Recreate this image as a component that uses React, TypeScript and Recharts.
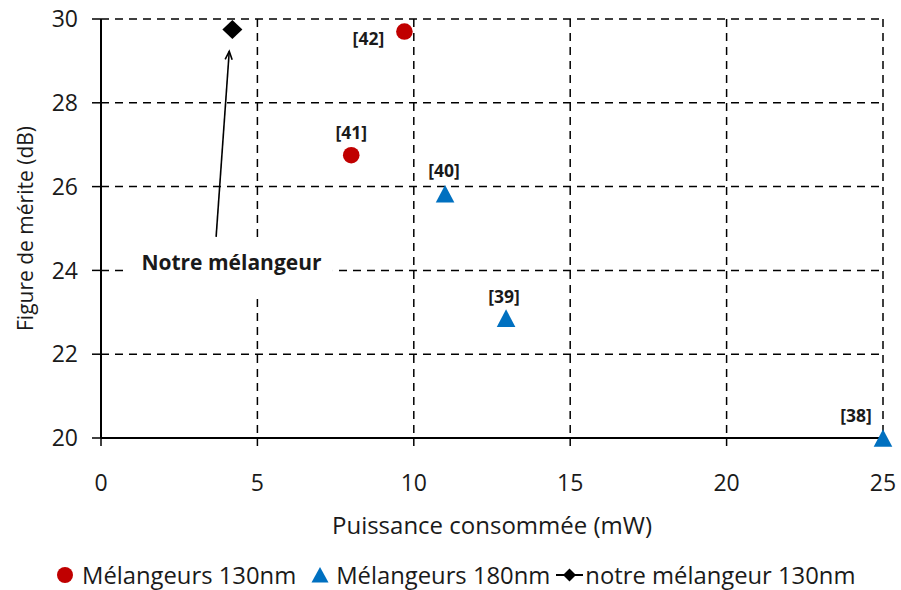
import React from 'react';
import {
  ScatterChart,
  Scatter,
  XAxis,
  YAxis,
  CartesianGrid,
  Legend,
  ReferenceLine,
  ReferenceDot,
} from 'recharts';

const FONT = '"Open Sans", Lato, sans-serif';

// ---- data ----
const xTicks = [0, 5, 10, 15, 20, 25];
const yTicks = [20, 22, 24, 26, 28, 30];

const series130Name = 'Mélangeurs 130nm';
const mixers130X = [8.0, 9.7];
const mixers130Y = [26.75, 29.7];
const mixers130Refs = ['[41]', '[42]'];

const series180Name = 'Mélangeurs 180nm';
const mixers180X = [11.0, 12.95, 25.0];
const mixers180Y = [25.83, 22.86, 20.0];
const mixers180Refs = ['[40]', '[39]', '[38]'];

const oursName = 'notre mélangeur 130nm';
const oursX = [4.2];
const oursY = [29.75];

const annotationText = 'Notre mélangeur';
const annotationAt = { x: 4.17, y: 24.2 };
const arrowFrom = { x: 3.68, y: 24.8 };
const arrowTo = { x: 4.1, y: 29.23 };

const xTitle = 'Puissance consommée (mW)';
const yTitle = 'Figure de mérite (dB)';

// ---- styling ----
const RED = '#C00000';
const BLUE = '#0070C0';
const TEXT = '#1a1a1a';
const labelOffset: Record<string, [number, number]> = {
  '[42]': [-36, 6],
  '[41]': [0, -23],
  '[40]': [-1, -24],
  '[39]': [-2, -22],
  '[38]': [-27, -23],
};

const build = (xs: number[], ys: number[], refs?: string[]) =>
  xs.map((x, i) => ({ x, y: ys[i], ref: refs ? refs[i] : '' }));

const data130 = build(mixers130X, mixers130Y, mixers130Refs);
const data180 = build(mixers180X, mixers180Y, mixers180Refs);
const dataOurs = build(oursX, oursY);

const RefLabel = ({ cx, cy, text }: { cx: number; cy: number; text: string }) => {
  if (!text) return null;
  const off = labelOffset[text] || [0, -22];
  return (
    <text
      x={cx + off[0]}
      y={cy + off[1]}
      textAnchor="middle"
      dominantBaseline="central"
      fontFamily={FONT}
      fontWeight={700}
      fontSize={17.5}
      fill={TEXT}
    >
      {text}
    </text>
  );
};

const CircleShape = (p: any) => (
  <g>
    <circle cx={p.cx} cy={p.cy} r={8.3} fill={RED} />
    <RefLabel cx={p.cx} cy={p.cy} text={p.payload?.ref} />
  </g>
);

const TriangleShape = (p: any) => (
  <g>
    <polygon
      points={`${p.cx},${p.cy - 8.8} ${p.cx + 9.3},${p.cy + 8.8} ${p.cx - 9.3},${p.cy + 8.8}`}
      fill={BLUE}
    />
    <RefLabel cx={p.cx} cy={p.cy} text={p.payload?.ref} />
  </g>
);

const DiamondShape = (p: any) => (
  <polygon
    points={`${p.cx},${p.cy - 9.5} ${p.cx + 10},${p.cy} ${p.cx},${p.cy + 9.5} ${p.cx - 10},${p.cy}`}
    fill="#000"
  />
);

const ArrowShape = (p: any) => {
  const { x1, y1, x2, y2 } = p;
  const ang = Math.atan2(y2 - y1, x2 - x1);
  const L = 9;
  const a1 = ang + Math.PI - 0.4;
  const a2 = ang + Math.PI + 0.4;
  return (
    <g>
      <line x1={x1} y1={y1} x2={x2} y2={y2} stroke="#000" strokeWidth={1.6} />
      <polyline
        points={`${x2 + L * Math.cos(a1)},${y2 + L * Math.sin(a1)} ${x2},${y2} ${x2 + L * Math.cos(a2)},${y2 + L * Math.sin(a2)}`}
        fill="none"
        stroke="#000"
        strokeWidth={1.6}
      />
    </g>
  );
};

const AnnotationShape = (p: any) => (
  <g>
    <rect x={p.cx - 104.5} y={p.cy - 22} width={206} height={56} fill="#fff" />
    <text
      x={p.cx}
      y={p.cy + 8}
      textAnchor="middle"
      fontFamily={FONT}
      fontWeight={700}
      fontSize={21}
      fill={TEXT}
    >
      {annotationText}
    </text>
  </g>
);

const LegendContent = () => (
  <div
    style={{
      display: 'flex',
      justifyContent: 'flex-start',
      alignItems: 'center',
      paddingLeft: 56,
      fontFamily: FONT,
      fontSize: 23.8,
      color: TEXT,
      whiteSpace: 'nowrap',
      lineHeight: '30px',
    }}
  >
    <svg width={18} height={30} style={{ marginRight: 8 }}>
      <circle cx={9} cy={15} r={8} fill={RED} />
    </svg>
    <span style={{ marginRight: 15 }}>{series130Name}</span>
    <svg width={18} height={30} style={{ marginRight: 7 }}>
      <polygon points="9,7 17.5,22.5 0.5,22.5" fill={BLUE} />
    </svg>
    <span style={{ marginRight: 6 }}>{series180Name}</span>
    <svg width={27} height={30} style={{ marginRight: 2 }}>
      <line x1={0} y1={15} x2={27} y2={15} stroke="#000" strokeWidth={2} />
      <polygon points="13.5,8.5 20,15 13.5,21.5 7,15" fill="#000" />
    </svg>
    <span>{oursName}</span>
  </div>
);

const tickStyle = { fontSize: 23, fill: TEXT, fontFamily: FONT };

export default function App() {
  return (
    <div style={{ position: 'absolute', left: 0, top: 0, width: 901, height: 590, background: '#fff' }}>
      <ScatterChart width={901} height={590} margin={{ top: 19, right: 18, left: 0, bottom: 0 }}>
        <CartesianGrid stroke="#000" strokeWidth={1.5} strokeDasharray="8 6" />
        <XAxis
          type="number"
          dataKey="x"
          domain={[0, 25]}
          ticks={xTicks}
          height={152}
          tickSize={8}
          tickMargin={29}
          tick={tickStyle}
          axisLine={{ stroke: '#000', strokeWidth: 2 }}
          tickLine={{ stroke: '#000', strokeWidth: 1.5 }}
          label={{
            content: (props: any) => {
              const vb = props.viewBox || { x: 101, width: 782, y: 438 };
              return (
                <text
                  x={vb.x + vb.width / 2}
                  y={vb.y + 96}
                  textAnchor="middle"
                  fontFamily={FONT}
                  fontSize={24}
                  fill={TEXT}
                >
                  {xTitle}
                </text>
              );
            },
          }}
        />
        <YAxis
          type="number"
          dataKey="y"
          domain={[20, 30]}
          ticks={yTicks}
          width={101}
          tickSize={9}
          tickMargin={14}
          tick={tickStyle}
          axisLine={{ stroke: '#000', strokeWidth: 2 }}
          tickLine={{ stroke: '#000', strokeWidth: 1.5 }}
          label={{
            content: (props: any) => {
              const vb = props.viewBox || { y: 19, height: 419 };
              const cx = 25;
              const cy = vb.y + vb.height / 2;
              return (
                <text
                  x={cx}
                  y={cy}
                  transform={`rotate(-90, ${cx}, ${cy})`}
                  textAnchor="middle"
                  dominantBaseline="central"
                  fontFamily={FONT}
                  fontSize={21}
                  fill={TEXT}
                >
                  {yTitle}
                </text>
              );
            },
          }}
        />
        <ReferenceDot
          x={annotationAt.x}
          y={annotationAt.y}
          r={0}
          shape={AnnotationShape}
          ifOverflow="visible"
        />
        <ReferenceLine
          segment={[arrowFrom, arrowTo]}
          shape={ArrowShape}
          ifOverflow="visible"
        />
        <Scatter name={series130Name} data={data130} shape={CircleShape} isAnimationActive={false} />
        <Scatter name={series180Name} data={data180} shape={TriangleShape} isAnimationActive={false} />
        <Scatter name={oursName} data={dataOurs} shape={DiamondShape} isAnimationActive={false} />
        <Legend
          layout="horizontal"
          verticalAlign="middle"
          align="center"
          content={LegendContent}
          wrapperStyle={{ position: 'absolute', top: 560, left: 0, width: 901, height: 30 }}
        />
      </ScatterChart>
    </div>
  );
}
